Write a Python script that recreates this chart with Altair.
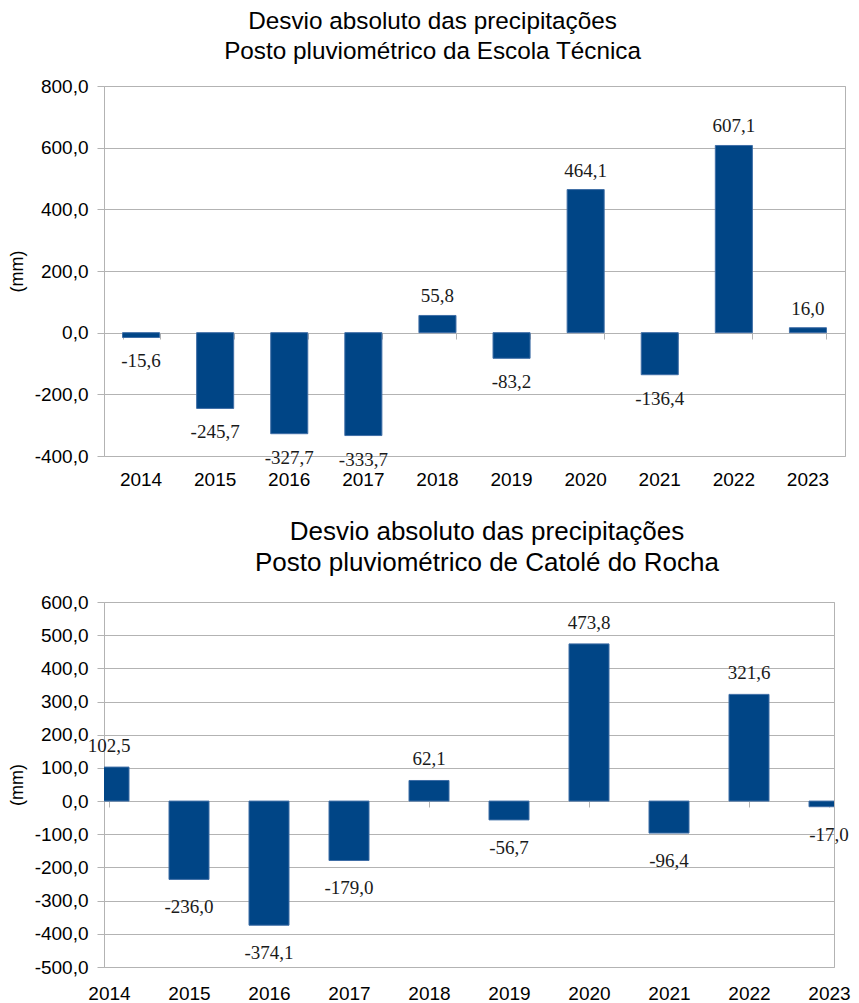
import altair as alt
import pandas as pd

# ---- data ----
years = ["2014", "2015", "2016", "2017", "2018", "2019", "2020", "2021", "2022", "2023"]
year_nums = [2014, 2015, 2016, 2017, 2018, 2019, 2020, 2021, 2022, 2023]
escola = [-15.6, -245.7, -327.7, -333.7, 55.8, -83.2, 464.1, -136.4, 607.1, 16.0]
catole = [102.5, -236.0, -374.1, -179.0, 62.1, -56.7, 473.8, -96.4, 321.6, -17.0]
top_title = ["Desvio absoluto das precipitações", "Posto pluviométrico da Escola Técnica"]
bottom_title = ["Desvio absoluto das precipitações", "Posto pluviométrico de Catolé do Rocha"]
top_yticks = [-400, -200, 0, 200, 400, 600, 800]
bottom_yticks = [-500, -400, -300, -200, -100, 0, 100, 200, 300, 400, 500, 600]
y_title = "(mm)"

# ---- styles ----
BLUE = "#004586"
EDGE = "#3f6ea6"
GRID = "#b3b3b3"
SANS = "Liberation Sans"
SERIF = "Liberation Serif"
LABEL_EXPR = "(datum.value < 0 ? '-' : '') + replace(format(abs(datum.value), '.1f'), '.', ',')"


def fmt(v):
    return ("-" if v < 0 else "") + f"{abs(v):.1f}".replace(".", ",")


df_top = pd.DataFrame({"ano": years, "desvio": escola, "rotulo": [fmt(v) for v in escola]})
df_bot = pd.DataFrame({"ano": year_nums, "desvio": catole, "rotulo": [fmt(v) for v in catole]})


def y_axis(values, title_pad):
    return alt.Axis(values=values, labelExpr=LABEL_EXPR, tickSize=7, tickColor=GRID,
                    gridColor=GRID, grid=True, domain=False, labelFontSize=19, labelFont=SANS,
                    labelColor="black", labelPadding=9, title=y_title, titleFontSize=18,
                    titleFont=SANS, titleFontWeight="normal", titleColor="black",
                    titlePadding=title_pad)


# ================= top chart =================
x_top_scale = alt.Scale(paddingInner=0.5, paddingOuter=0.25)
x_top_axis = alt.Axis(orient="bottom", ticks=False, domain=False, labelAngle=0,
                      labelFontSize=19, labelFont=SANS, labelColor="black",
                      labelPadding=14, title=None)
x_top_ticks = alt.Axis(orient="top", offset=-253, labels=False, domain=False, ticks=True,
                       tickSize=6, tickColor=GRID, tickBand="extent", grid=False, title=None)
y_top = alt.Y("desvio:Q", scale=alt.Scale(domain=[-400, 800], nice=False),
              axis=y_axis(top_yticks, 8))

bars_top = alt.Chart(df_top).mark_bar(color=BLUE, stroke=EDGE, strokeWidth=1).encode(
    x=alt.X("ano:O", sort=years, scale=x_top_scale, axis=x_top_axis),
    y=y_top,
)

neg_top = alt.Chart(df_top).transform_filter("datum.desvio < 0").mark_text(
    font=SERIF, fontSize=19, color="#1a1a1a", baseline="alphabetic", dy=30
).encode(
    x=alt.X("ano:O", sort=years, scale=x_top_scale, axis=None),
    y=y_top,
    text="rotulo:N",
)

pos_top = alt.Chart(df_top).transform_filter("datum.desvio >= 0").mark_text(
    font=SERIF, fontSize=19, color="#1a1a1a", baseline="alphabetic", dy=-13
).encode(
    x=alt.X("ano:O", sort=years, scale=x_top_scale, axis=x_top_ticks),
    y=y_top,
    text="rotulo:N",
)

top = alt.layer(bars_top, neg_top, pos_top).properties(
    width=741, height=370,
    title=alt.Title(top_title, fontSize=24.3, font=SANS, fontWeight="normal", color="black",
                    anchor="middle", frame="bounds", dx=6, lineHeight=30, offset=13),
)

# ================= bottom chart =================
x_bot_scale = alt.Scale(domain=[2014, 2023], nice=False, zero=False)
x_bot_axis = alt.Axis(orient="bottom", values=year_nums, format="d", ticks=False,
                      domain=False, grid=False, labelFlush=False, labelOverlap=False,
                      labelFontSize=19, labelFont=SANS, labelColor="black",
                      labelPadding=17, title=None)
x_bot_ticks = alt.Axis(orient="top", offset=-205, values=year_nums, labels=False,
                       domain=False, ticks=True, tickSize=6, tickColor=GRID, grid=False,
                       title=None)
y_bot = alt.Y("desvio:Q", scale=alt.Scale(domain=[-500, 600], nice=False),
              axis=y_axis(bottom_yticks, 8))

bars_bot = alt.Chart(df_bot).mark_bar(color=BLUE, stroke=EDGE, strokeWidth=1, size=40,
                                      clip=True).encode(
    x=alt.X("ano:Q", scale=x_bot_scale, axis=x_bot_axis),
    y=y_bot,
)

neg_bot = alt.Chart(df_bot).transform_filter("datum.desvio < 0").mark_text(
    font=SERIF, fontSize=19, color="#1a1a1a", baseline="alphabetic", dy=34
).encode(
    x=alt.X("ano:Q", scale=x_bot_scale, axis=None),
    y=y_bot,
    text="rotulo:N",
)

pos_bot = alt.Chart(df_bot).transform_filter("datum.desvio >= 0").mark_text(
    font=SERIF, fontSize=19, color="#1a1a1a", baseline="alphabetic", dy=-15
).encode(
    x=alt.X("ano:Q", scale=x_bot_scale, axis=x_bot_ticks),
    y=y_bot,
    text="rotulo:N",
)

bottom = alt.layer(bars_bot, neg_bot, pos_bot).properties(
    width=730, height=365,
    title=alt.Title(bottom_title, fontSize=26, font=SANS, fontWeight="normal", color="black",
                    anchor="middle", frame="group", dx=18, lineHeight=31, offset=17),
)

chart = alt.vconcat(top, bottom, spacing=28).properties(
    padding={"left": 7, "top": 9, "right": 5, "bottom": 0},
    background="white",
).configure_view(stroke=GRID, strokeWidth=1)

chart.save("out.html", embed_options={"renderer": "svg", "actions": False})
